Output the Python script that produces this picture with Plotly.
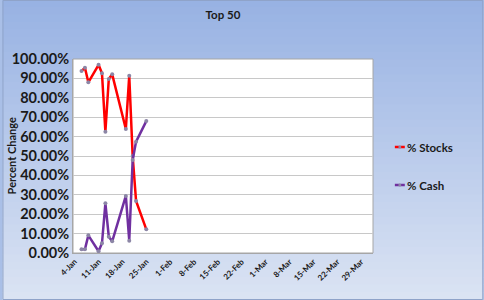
import plotly.graph_objects as go

dates = ["2010-01-06", "2010-01-07", "2010-01-08", "2010-01-11", "2010-01-12",
         "2010-01-13", "2010-01-14", "2010-01-15", "2010-01-19", "2010-01-20",
         "2010-01-21", "2010-01-22", "2010-01-25"]
stocks = [0.938, 0.955, 0.880, 0.970, 0.926, 0.625, 0.897, 0.921, 0.639, 0.914,
          0.500, 0.268, 0.122]
cash = [0.019, 0.019, 0.091, 0.009, 0.050, 0.256, 0.084, 0.060, 0.294, 0.063,
        0.479, 0.574, 0.680]
series_names = ["% Stocks", "% Cash"]
series_colors = ["#ff0000", "#7030a0"]
title_text = "Top 50"
y_title = "Percent Change"

FONT = "Lato"
TXT = "#1a1a1a"
W, H = 484, 300
L, R, T, B = 71, 111, 59, 47
PW, PH = W - L - R, H - T - B


def px(x):
    return (x - L) / PW


def py(y):
    return (H - B - y) / PH


fig = go.Figure()
for name, vals, col in zip(series_names, [stocks, cash], series_colors):
    fig.add_trace(go.Scatter(x=dates, y=vals, name=name, mode="lines+markers",
                             line=dict(color=col, width=2.5),
                             marker=dict(size=4, color="#8c86a6"),
                             showlegend=False))

# vertical gradient background made of bands
n = 40
c0 = (152, 178, 227)
c1 = (218, 227, 243)
shapes = []
for i in range(n):
    t = i / (n - 1)
    c = tuple(round(c0[k] + (c1[k] - c0[k]) * t) for k in range(3))
    shapes.append(dict(type="rect", xref="paper", yref="paper", layer="below",
                       x0=px(0), x1=px(W), y0=py(H * (i + 1) / n), y1=py(H * i / n) + 0.002,
                       fillcolor="rgb(%d,%d,%d)" % c, line=dict(width=0)))
# outer border
shapes.append(dict(type="rect", xref="paper", yref="paper", layer="below",
                   x0=px(0.5), x1=px(W - 0.5), y0=py(H - 0.5), y1=py(0.5),
                   fillcolor="rgba(0,0,0,0)", line=dict(color="#8fa3c9", width=1)))
# plot area white
shapes.append(dict(type="rect", xref="paper", yref="paper", layer="below",
                   x0=0, x1=1, y0=0, y1=1, fillcolor="white",
                   line=dict(color="#a6a6a6", width=1)))

annotations = [dict(text="<b>%s</b>" % y_title, textangle=-90, xref="paper", yref="paper",
                    x=px(9), y=0.5, xanchor="center", yanchor="middle", showarrow=False,
                    font=dict(family=FONT, size=11, color=TXT))]
# custom legend
leg_y = [147, 185]
for name, col, yy in zip(series_names, series_colors, leg_y):
    shapes.append(dict(type="line", xref="paper", yref="paper", x0=px(395), x1=px(405),
                       y0=py(yy), y1=py(yy), line=dict(color=col, width=2.5)))
    shapes.append(dict(type="circle", xref="paper", yref="paper", x0=px(398.5), x1=px(401.5),
                       y0=py(yy + 1.5), y1=py(yy - 1.5), fillcolor="#8c86a6",
                       line=dict(width=0)))
    annotations.append(dict(text="<b>%s</b>" % name, xref="paper", yref="paper",
                            x=px(405), y=py(yy), xanchor="left", yanchor="middle",
                            showarrow=False, font=dict(family=FONT, size=11.5, color=TXT)))

fig.update_layout(
    width=W, height=H,
    margin=dict(l=L, r=R, t=T, b=B),
    paper_bgcolor="#a9bfe7",
    plot_bgcolor="rgba(0,0,0,0)",
    shapes=shapes,
    annotations=annotations,
    title=dict(text="<b>%s</b>" % title_text, x=0.5, xref="paper", xanchor="center",
               y=1 - 15 / H, yanchor="middle",
               font=dict(family=FONT, size=11.5, color=TXT)),
    showlegend=False,
    xaxis=dict(type="date", range=["2010-01-03 12:00", "2010-04-01 12:00"],
               tick0="2010-01-04", dtick=7 * 86400000, tickformat="%-d-%b",
               tickangle=-45, showgrid=False, showline=True, linecolor="#a6a6a6",
               ticks="", tickfont=dict(family=FONT, size=8, color=TXT, weight="bold"),
               fixedrange=True),
    yaxis=dict(range=[0, 1], dtick=0.1, tickformat=".2%", showgrid=True,
               gridcolor="#c8c8c8", gridwidth=1, zeroline=False, showline=True,
               linecolor="#a6a6a6", ticks="",
               tickfont=dict(family=FONT, size=14.5, color=TXT, weight="bold")),
)

fig.write_html("out.html")
